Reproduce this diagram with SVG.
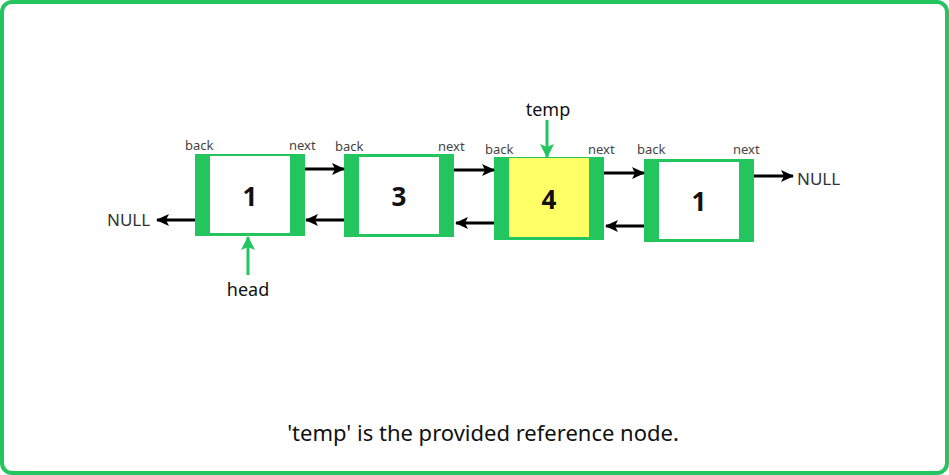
<svg xmlns="http://www.w3.org/2000/svg" width="949" height="475" viewBox="0 0 949 475">
<style>
.frame{fill:#fff;stroke:#22c55e;stroke-width:4}
.outer{fill:#22c55e}
.inner{fill:#fff}
.lbl{font-family:"Noto Sans","DejaVu Sans",sans-serif;font-size:13px;fill:#444}
.num{font-family:"Noto Sans","DejaVu Sans",sans-serif;font-size:26px;font-weight:bold;fill:#111;text-anchor:middle}
.null{font-family:"Noto Sans","DejaVu Sans",sans-serif;font-size:17px;fill:#333}
.ptr{font-family:"Noto Sans","DejaVu Sans",sans-serif;font-size:18px;fill:#111;text-anchor:middle}
.cap{font-family:"Noto Sans","DejaVu Sans",sans-serif;font-size:22px;fill:#111;text-anchor:middle}
.blk{stroke:#000;stroke-width:3;fill:none;marker-end:url(#ab)}
.grn{stroke:#22c55e;stroke-width:3;fill:none;marker-end:url(#ag)}
</style>
<defs>
<marker id="ab" markerWidth="13" markerHeight="12" refX="12" refY="6" orient="auto" markerUnits="userSpaceOnUse"><path d="M0,0 L13,6 L0,12 L3,6 Z" fill="#000"/></marker>
<marker id="ag" markerWidth="14" markerHeight="14" refX="13" refY="7" orient="auto" markerUnits="userSpaceOnUse"><path d="M0,0 L14,7 L0,14 L3,7 Z" fill="#22c55e"/></marker>
</defs>
<rect class="frame" x="2" y="2" width="945" height="471" rx="10"/>
<g id="node1">
<rect class="outer" x="195" y="154" width="110" height="82"/>
<rect class="inner" x="210" y="156" width="80" height="77"/>
<text class="num" x="250" y="206">1</text>
<text class="lbl" x="185" y="150">back</text>
<text class="lbl" x="289" y="150">next</text>
</g>
<g id="node2">
<rect class="outer" x="344" y="154" width="110" height="83"/>
<rect class="inner" x="359" y="157" width="80" height="77"/>
<text class="num" x="399" y="206">3</text>
<text class="lbl" x="335" y="151">back</text>
<text class="lbl" x="438" y="151">next</text>
</g>
<g id="node3">
<rect class="outer" x="494" y="157" width="110" height="83"/>
<rect fill="#ffff66" x="509" y="158" width="80" height="79"/>
<text class="num" x="549" y="209">4</text>
<text class="lbl" x="485" y="154">back</text>
<text class="lbl" x="588" y="154">next</text>
</g>
<g id="node4">
<rect class="outer" x="644" y="159" width="110" height="83"/>
<rect class="inner" x="659" y="162" width="80" height="77"/>
<text class="num" x="699" y="211">1</text>
<text class="lbl" x="637" y="154">back</text>
<text class="lbl" x="733" y="154">next</text>
</g>
<g id="null-left"><text class="null" x="107" y="226">NULL</text></g>
<g id="null-right"><text class="null" x="797" y="185">NULL</text></g>
<g id="head"><text class="ptr" x="248" y="296">head</text></g>
<g id="temp"><text class="ptr" x="548" y="116">temp</text></g>
<g id="connectors">
<line class="blk" x1="305" y1="169" x2="344" y2="169"/>
<line class="blk" x1="344" y1="220" x2="306" y2="220"/>
<line class="blk" x1="195" y1="220" x2="157" y2="220"/>
<line class="blk" x1="454" y1="170" x2="494" y2="170"/>
<line class="blk" x1="494" y1="223" x2="456" y2="223"/>
<line class="blk" x1="604" y1="173" x2="644" y2="173"/>
<line class="blk" x1="644" y1="226" x2="606" y2="226"/>
<line class="blk" x1="754" y1="176" x2="793" y2="176"/>
<line class="grn" x1="248" y1="275" x2="248" y2="237"/>
<line class="grn" x1="547" y1="120" x2="547" y2="157"/>
</g>
<text class="cap" x="483" y="441">'temp' is the provided reference node.</text>
</svg>
